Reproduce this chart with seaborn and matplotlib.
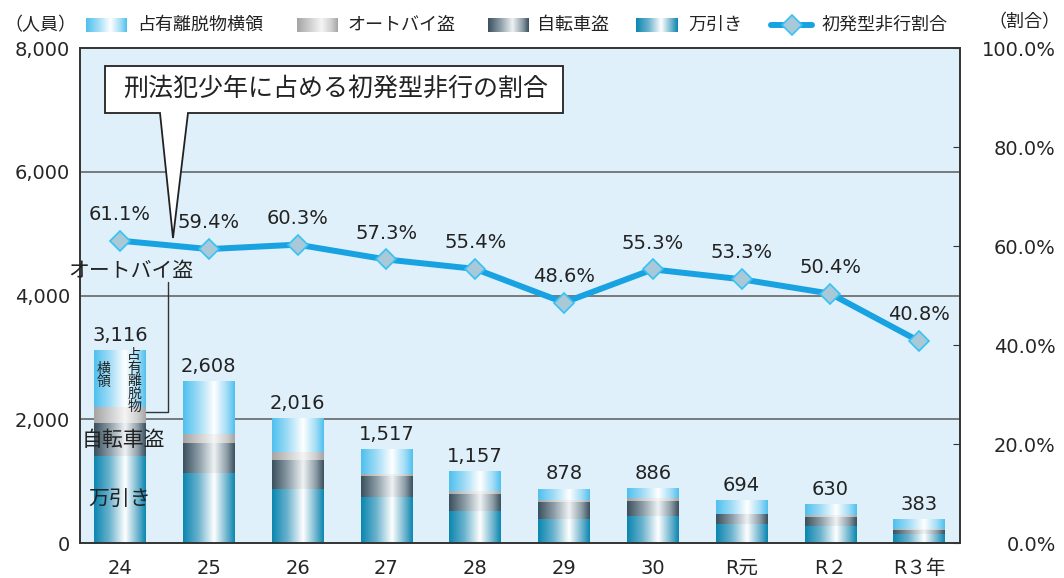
import numpy as np
import seaborn as sns
import matplotlib.pyplot as plt
from matplotlib.colors import LinearSegmentedColormap
from matplotlib.patches import Polygon
from matplotlib.lines import Line2D

# 1. DATA
# -------
years = ['24', '25', '26', '27', '28', '29', '30', 'R元', 'R２', 'R３年']
totals = [3116, 2608, 2016, 1517, 1157, 878, 886, 694, 630, 383]
manbiki = [1409, 1128, 874, 745, 518, 389, 437, 313, 275, 146]
jitensha = [539, 491, 470, 340, 276, 275, 243, 158, 146, 75]
autobai = [259, 146, 130, 37, 48, 37, 49, 10, 32, 6]
senyu = [909, 843, 542, 395, 315, 177, 157, 213, 177, 156]
ratio = [61.1, 59.4, 60.3, 57.3, 55.4, 48.6, 55.3, 53.3, 50.4, 40.8]

layer_names = ['万引き', '自転車盗', 'オートバイ盗', '占有離脱物横領']
layer_values = [manbiki, jitensha, autobai, senyu]

# edge / mid / centre colours for the shiny bar gradients
layer_colors = {
    '万引き': ('#0a86b0', '#6cb3cd', '#ffffff'),
    '自転車盗': ('#3a505d', '#8b9ca6', '#eef2f4'),
    'オートバイ盗': ('#a4a4a4', '#cdcdcd', '#f5f5f5'),
    '占有離脱物横領': ('#4ec0ee', '#a0dcf6', '#ffffff'),
}
line_color = '#18a2e2'
bg_color = '#dff0fa'


def grad_cmap(name):
    edge, mid, centre = layer_colors[name]
    return LinearSegmentedColormap.from_list(
        name, [(0, edge), (0.3, mid), (0.6, centre), (0.85, mid), (1, edge)])


gradient = np.linspace(0, 1, 256).reshape(1, -1)

# 2. SETUP
# --------
sns.set_style('white')
plt.rcParams['font.family'] = ['DejaVu Sans', 'Noto Sans CJK JP']

fig = plt.figure(figsize=(10.64, 5.78), dpi=100)
ax = fig.add_axes([80 / 1064, 1 - 543.3 / 578, 880 / 1064, 495.3 / 578])
ax.set_facecolor(bg_color)

# 3. STACKED BARS (drawn tallest first, then gradient-filled per segment)
# ----------------------------------------------------------------------
cum = np.cumsum(np.array(layer_values), axis=0)
for i in reversed(range(len(layer_names))):
    n_before = len(ax.patches)
    sns.barplot(x=years, y=cum[i], color=layer_colors[layer_names[i]][0],
                width=0.58, ax=ax, zorder=2)
    for j, p in enumerate(ax.patches[n_before:]):
        bottom = cum[i - 1][j] if i > 0 else 0
        x0, w = p.get_x(), p.get_width()
        ax.imshow(gradient, cmap=grad_cmap(layer_names[i]), aspect='auto',
                  interpolation='bicubic', zorder=2 + 0.1 * i,
                  extent=(x0, x0 + w, bottom, p.get_height()))
        p.set_visible(False)

for k, t in enumerate(totals):
    ax.annotate(f'{t:,}', (k, t), xytext=(0, 11), textcoords='offset points',
                ha='center', va='center', fontsize=14, color='#222')

ax.set_xlim(-0.45, 9.46)
ax.set_ylim(0, 8000)
ax.set_yticks([0, 2000, 4000, 6000, 8000])
ax.set_yticklabels([f'{v:,}' for v in [0, 2000, 4000, 6000, 8000]])
for v in [2000, 4000, 6000]:
    ax.axhline(v, color='#5a5a5a', lw=1.1, zorder=1)
ax.tick_params(axis='y', length=0, pad=7, labelsize=14)
ax.tick_params(axis='x', length=0, pad=11, labelsize=14)
ax.set_xlabel('')
ax.set_ylabel('')
for s in ax.spines.values():
    s.set_color('#333333')
    s.set_linewidth(1.2)

# 4. RATIO LINE
# -------------
ax2 = ax.twinx()
sns.lineplot(x=np.arange(len(years)), y=ratio, ax=ax2, color=line_color, lw=4.3,
             marker='D', markersize=10, markerfacecolor='#a9c8d8',
             markeredgecolor='#36c2f4', markeredgewidth=1.2, zorder=5)
for k, r in enumerate(ratio):
    ax2.annotate(f'{r:.1f}%', (k, r), xytext=(0, 19), textcoords='offset points',
                 ha='center', va='center', fontsize=14, color='#222')
ax2.set_ylim(0, 100)
ax2.set_xlim(-0.45, 9.46)
ax2.set_yticks([0, 20, 40, 60, 80, 100])
ax2.set_yticklabels([f'{v:.1f}%' for v in [0, 20, 40, 60, 80, 100]])
ax2.tick_params(axis='y', direction='in', length=5, pad=69, labelsize=14,
                color='#333333')
for lbl in ax2.get_yticklabels():
    lbl.set_horizontalalignment('right')
for s in ax2.spines.values():
    s.set_color('#333333')
    s.set_linewidth(1.2)


# 5. ANNOTATIONS
# --------------
def fx(px):
    return (px - 80) / 880


def fy(py):
    return (543.3 - py) / 495.3


callout = [(105, 66), (563, 66), (563, 113), (188, 113), (173, 238), (160, 113), (105, 113)]
ax2.add_patch(Polygon([(fx(a), fy(b)) for a, b in callout], closed=True,
                      transform=ax2.transAxes, facecolor='white',
                      edgecolor='#222', lw=1.3, zorder=8))
ax2.text(fx(336), fy(89), '刑法犯少年に占める初発型非行の割合', transform=ax2.transAxes,
         ha='center', va='center', fontsize=18, color='#222', zorder=9)

ax2.text(fx(131), fy(271), 'オートバイ盗', transform=ax2.transAxes,
         ha='center', va='center', fontsize=15, color='#222', zorder=9)
ax2.plot([fx(167.7), fx(167.7), fx(146)], [fy(282), fy(411.7), fy(411.7)],
         transform=ax2.transAxes, color='#333', lw=1, zorder=9)
ax2.text(fx(123.5), fy(440), '自転車盗', transform=ax2.transAxes,
         ha='center', va='center', fontsize=15, color='#222', zorder=9)
ax2.text(fx(120), fy(500), '万引き', transform=ax2.transAxes,
         ha='center', va='center', fontsize=15, color='#222', zorder=9)
ax2.text(fx(134), fy(381), '占\n有\n離\n脱\n物', transform=ax2.transAxes,
         ha='center', va='center', fontsize=10, linespacing=0.9, color='#222', zorder=9)
ax2.text(fx(104), fy(375), '横\n領', transform=ax2.transAxes,
         ha='center', va='center', fontsize=10, linespacing=0.9, color='#222', zorder=9)

# 6. LEGEND (drawn by hand so the swatches keep their gradients)
# --------------------------------------------------------------
H, W = 578, 1064
leg_y = 25
legend_items = [('占有離脱物横領', 86, 137), ('オートバイ盗', 297, 347),
                ('自転車盗', 488, 537), ('万引き', 636, 688)]
for name, px0, tx in legend_items:
    lax = fig.add_axes([px0 / W, 1 - (leg_y + 7) / H, 41 / W, 14 / H])
    lax.imshow(gradient, cmap=grad_cmap(name), aspect='auto', interpolation='bicubic')
    lax.axis('off')
    fig.text(tx / W, 1 - leg_y / H, name, ha='left', va='center', fontsize=13, color='#222')

fig.add_artist(Line2D([771 / W, 812 / W], [1 - leg_y / H, 1 - leg_y / H], color=line_color,
                      lw=4.3, transform=fig.transFigure))
fig.add_artist(Line2D([791.5 / W], [1 - leg_y / H], marker='D', markersize=10,
                      markerfacecolor='#a9c8d8', markeredgecolor='#36c2f4',
                      markeredgewidth=1.2, transform=fig.transFigure))
fig.text(822 / W, 1 - leg_y / H, '初発型非行割合', ha='left', va='center', fontsize=13, color='#222')
fig.text(4 / W, 1 - leg_y / H, '（人員）', ha='left', va='center', fontsize=13, color='#222')
fig.text(1060 / W, 1 - 22 / H, '（割合）', ha='right', va='center', fontsize=13, color='#222')

plt.savefig('out.png', dpi=100)
